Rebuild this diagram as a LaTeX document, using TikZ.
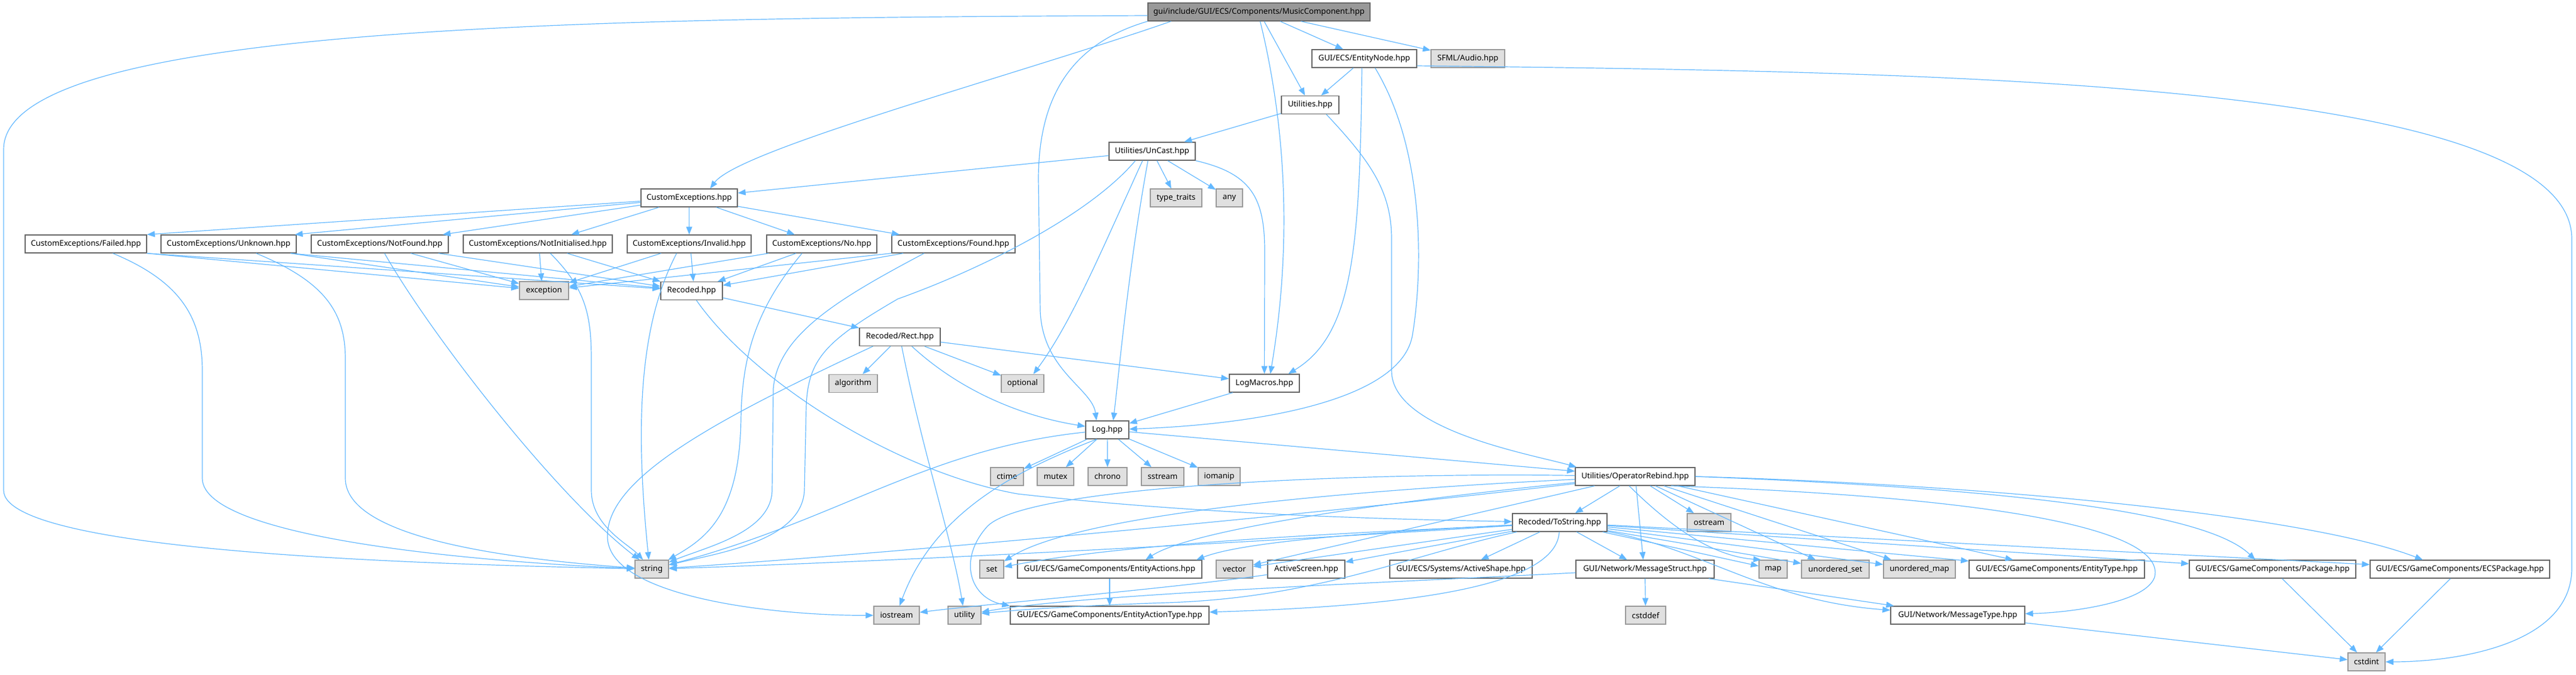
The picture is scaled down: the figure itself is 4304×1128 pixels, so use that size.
\documentclass[tikz,border=0pt]{standalone}
\usepackage{fontspec}
\usetikzlibrary{arrows.meta}
\newfontfamily\dgfont{Noto Sans}
\definecolor{edgec}{HTML}{63B8FF}
\definecolor{cdark}{HTML}{666666}
\definecolor{cmid}{HTML}{999999}
\definecolor{clight}{HTML}{E0E0E0}
\tikzset{
  box/.style={rectangle, draw=cdark, fill=white, line width=1.4pt, minimum height=30pt, inner sep=0pt,
    font=\dgfont\fontsize{13.2pt}{15pt}\selectfont, text=black},
  gbox/.style={box, draw=cmid, fill=clight},
  rbox/.style={box, draw=cdark, fill=cmid},
  e/.style={draw=edgec, line width=1.2pt, -{Triangle[length=13pt,width=10pt]}},
}
\begin{document}
\begin{tikzpicture}[x=1pt,y=1pt]
\useasboundingbox (0,0) rectangle (4304,-1128);
% nodes
\node[rbox, minimum width=371pt] (root) at (2103.5,-20) {gui/include/GUI/ECS/Components/MusicComponent.hpp};
\node[box, minimum width=175pt] (entnode) at (2279.5,-98) {GUI/ECS/EntityNode.hpp};
\node[gbox, minimum width=123pt] (sfml) at (2452.5,-98) {SFML/Audio.hpp};
\node[box, minimum width=96pt] (util) at (2189,-175.5) {Utilities.hpp};
\node[box, minimum width=144pt] (uncast) at (1925,-253) {Utilities/UnCast.hpp};
\node[box, minimum width=161pt] (cexc) at (1151.5,-331) {CustomExceptions.hpp};
\node[gbox, minimum width=86pt] (typetr) at (1965,-331) {type\_traits};
\node[gbox, minimum width=44pt] (any) at (2054,-331) {any};
\node[box, minimum width=203pt] (failed) at (143.5,-408) {CustomExceptions/Failed.hpp};
\node[box, minimum width=226pt] (unknown) at (382,-408) {CustomExceptions/Unknown.hpp};
\node[box, minimum width=229pt] (notfound) at (634.5,-408) {CustomExceptions/NotFound.hpp};
\node[box, minimum width=249pt] (notinit) at (898.5,-408) {CustomExceptions/NotInitialised.hpp};
\node[box, minimum width=207pt] (invalid) at (1151.5,-408) {CustomExceptions/Invalid.hpp};
\node[box, minimum width=184pt] (no) at (1373,-408) {CustomExceptions/No.hpp};
\node[box, minimum width=206pt] (found) at (1593,-408) {CustomExceptions/Found.hpp};
\node[gbox, minimum width=82pt] (exception) at (909,-486) {exception};
\node[box, minimum width=103pt] (recoded) at (1155.5,-486.5) {Recoded.hpp};
\node[box, minimum width=135pt] (rect) at (1503.5,-563.5) {Recoded/Rect.hpp};
\node[gbox, minimum width=81pt] (algorithm) at (1425.5,-641.5) {algorithm};
\node[gbox, minimum width=71pt] (optional) at (1708.5,-641.5) {optional};
\node[box, minimum width=117pt] (logmacros) at (2112.5,-641) {LogMacros.hpp};
\node[box, minimum width=72pt] (log) at (1850,-719) {Log.hpp};
\node[gbox, minimum width=55pt] (ctime) at (1682.5,-797) {ctime};
\node[gbox, minimum width=61pt] (mutex) at (1763.5,-797) {mutex};
\node[gbox, minimum width=65pt] (chrono) at (1850.5,-797) {chrono};
\node[gbox, minimum width=71pt] (sstream) at (1942.5,-797) {sstream};
\node[gbox, minimum width=70pt] (iomanip) at (2037,-797) {iomanip};
\node[box, minimum width=200pt] (oprebind) at (2732,-797) {Utilities/OperatorRebind.hpp};
\node[box, minimum width=158pt] (tostring) at (2606,-874) {Recoded/ToString.hpp};
\node[gbox, minimum width=73pt] (ostream) at (2855.5,-874) {ostream};
\node[gbox, minimum width=56pt] (string) at (1089,-952) {string};
\node[gbox, minimum width=40pt] (set) at (1657,-952) {set};
\node[box, minimum width=308pt] (entact) at (1854,-952) {GUI/ECS/GameComponents/EntityActions.hpp};
\node[gbox, minimum width=61pt] (vector) at (2062.5,-952) {vector};
\node[box, minimum width=129pt] (actscreen) at (2182.5,-952) {ActiveScreen.hpp};
\node[box, minimum width=238pt] (actshape) at (2441,-952) {GUI/ECS/Systems/ActiveShape.hpp};
\node[box, minimum width=231pt] (msgstruct) at (2748.5,-952) {GUI/Network/MessageStruct.hpp};
\node[gbox, minimum width=47pt] (map) at (2962.5,-952) {map};
\node[gbox, minimum width=113pt] (uset) at (3066.5,-952) {unordered\_set};
\node[gbox, minimum width=120pt] (umap) at (3207,-952) {unordered\_map};
\node[box, minimum width=293pt] (enttype) at (3436.5,-952) {GUI/ECS/GameComponents/EntityType.hpp};
\node[box, minimum width=278pt] (package) at (3797,-952) {GUI/ECS/GameComponents/Package.hpp};
\node[box, minimum width=300pt] (ecspackage) at (4110,-952) {GUI/ECS/GameComponents/ECSPackage.hpp};
\node[gbox, minimum width=76pt] (iostream) at (1498,-1029) {iostream};
\node[gbox, minimum width=55pt] (utility) at (1611.5,-1029) {utility};
\node[box, minimum width=332pt] (entacttype) at (1854,-1029) {GUI/ECS/GameComponents/EntityActionType.hpp};
\node[gbox, minimum width=67pt] (cstddef) at (2749.5,-1029) {cstddef};
\node[box, minimum width=224pt] (msgtype) at (3271,-1029) {GUI/Network/MessageType.hpp};
\node[gbox, minimum width=62pt] (cstdint) at (3954,-1107) {cstdint};

% root
\draw[e] ([yshift=-6pt]root.west) .. controls (1000,-30) and (6,-40) .. (6,-250) -- (6,-820) .. controls (6,-930) and (800,-945) .. (string);
\draw[e] ([xshift=-147pt]root.south) .. controls (1700,-125) and (1235,-250) .. ([xshift=35pt]cexc.north);
\draw[e] (root.south west) .. controls (1800,-70) and (1735,-150) .. (1735,-300) -- (1738,-520) .. controls (1742,-620) and (1825,-650) .. ([xshift=-18pt]log.north);
\draw[e] ([xshift=2pt]root.south) .. controls (2170,-300) and (2140,-520) .. ([xshift=10pt]logmacros.north);
\draw[e] (root) -- (util);
\draw[e] (root) -- (entnode);
\draw[e] (root) -- (sfml);
% entity node
\draw[e] (entnode) -- (util);
\draw[e] ([xshift=-4pt]entnode.south) .. controls (2272,-420) and (2260,-560) .. ([xshift=40pt]logmacros.north);
\draw[e] ([xshift=18pt]entnode.south) .. controls (2380,-250) and (2378,-450) .. (2360,-560) .. controls (2342,-670) and (2100,-710) .. (log);
\draw[e] ([yshift=-12pt]entnode.east) .. controls (3200,-120) and (4297,-130) .. (4297,-400) -- (4297,-950) .. controls (4297,-1080) and (4100,-1107) .. (cstdint);
% utilities
\draw[e] (util) -- (uncast);
\draw[e] ([xshift=27pt]util.south) .. controls (2290,-270) and (2325,-320) .. (2325,-400) -- (2325,-620) .. controls (2325,-720) and (2560,-760) .. ([xshift=-98pt]oprebind.north);
% uncast
\draw[e] (uncast) -- (cexc);
\draw[e] (uncast) -- (typetr);
\draw[e] (uncast) -- (any);
\draw[e] (uncast.south east) .. controls (2090,-290) and (2113,-330) .. (2113,-420) -- (logmacros);
\draw[e] ([xshift=-7pt]uncast.south) .. controls (1885,-450) and (1870,-620) .. ([xshift=10pt]log.north);
\draw[e] ([xshift=-16pt]uncast.south) .. controls (1840,-420) and (1790,-540) .. ([xshift=18pt]optional.north);
\draw[e] ([xshift=-28pt]uncast.south) .. controls (1820,-360) and (1640,-450) .. (1500,-500) .. controls (1380,-570) and (1350,-600) .. (1347,-680) -- (1344,-820) .. controls (1340,-905) and (1200,-925) .. (string);
% custom exceptions
\draw[e] (cexc) -- (failed.north east);
\draw[e] (cexc) -- ([xshift=-3pt]unknown.north east);
\draw[e] (cexc) -- ([xshift=-10pt]notfound.north east);
\draw[e] (cexc) -- ([xshift=56pt]notinit.north);
\draw[e] (cexc) -- (invalid);
\draw[e] (cexc) -- (no);
\draw[e] (cexc) -- (found);
% failed
\draw[e] (failed.south east) -- (exception);
\draw[e] (failed.south east) -- (recoded);
\draw[e] ([xshift=45pt]failed.south) .. controls (300,-470) and (338,-530) .. (338,-620) -- (338,-800) .. controls (338,-900) and (800,-940) .. (string);
% unknown
\draw[e] ([xshift=-10pt]unknown.south east) -- (exception);
\draw[e] ([xshift=-10pt]unknown.south east) -- (recoded);
\draw[e] ([xshift=46pt]unknown.south) .. controls (540,-470) and (577,-520) .. (577,-600) -- (577,-800) .. controls (577,-900) and (850,-935) .. (string);
% not found
\draw[e] ([xshift=52pt]notfound.south) -- (exception);
\draw[e] ([xshift=98pt]notfound.south) -- (recoded);
\draw[e] ([xshift=8pt]notfound.south) .. controls (720,-560) and (930,-830) .. (string);
% not initialised
\draw[e] ([xshift=3pt]notinit.south) -- ([xshift=-4pt]exception.north);
\draw[e] ([xshift=49pt]notinit.south) -- (recoded);
\draw[e] ([xshift=21pt]notinit.south) .. controls (975,-480) and (988,-520) .. (988,-600) -- (988,-820) .. controls (988,-880) and (1050,-910) .. (string);
% invalid
\draw[e] ([xshift=-47pt]invalid.south) -- (exception);
\draw[e] ([xshift=3pt]invalid.south) -- ([xshift=3pt]recoded.north);
\draw[e] ([xshift=-21pt]invalid.south) .. controls (1070,-540) and (1060,-700) .. ([xshift=-5pt]string.north);
% no
\draw[e] ([xshift=-89pt]no.south) -- (exception);
\draw[e] ([xshift=-43pt]no.south) -- (recoded);
\draw[e] ([xshift=-33pt]no.south) .. controls (1260,-520) and (1240,-600) .. (1238,-700) .. controls (1236,-860) and (1180,-900) .. (string);
% found
\draw[e] (found.south west) -- (exception);
\draw[e] ([xshift=-84pt]found.south) -- (recoded);
\draw[e] ([xshift=-49pt]found.south) .. controls (1400,-500) and (1300,-560) .. (1292,-650) -- (1290,-820) .. controls (1289,-890) and (1180,-915) .. (string);
% recoded
\draw[e] (recoded) -- (rect);
\draw[e] ([xshift=8pt]recoded.south) .. controls (1260,-640) and (1500,-790) .. (1700,-826) .. controls (2000,-860) and (2300,-868) .. (tostring);
% rect
\draw[e] (rect) -- (algorithm);
\draw[e] (rect) -- (optional);
\draw[e] (rect) -- (logmacros);
\draw[e] ([xshift=20pt]rect.south) .. controls (1600,-650) and (1700,-695) .. (log);
\draw[e] (rect) .. controls (1540,-750) and (1590,-900) .. (utility);
\draw[e] ([xshift=-45pt]rect.south) .. controls (1200,-700) and (1010,-800) .. (1015,-900) .. controls (1020,-1000) and (1300,-1030) .. (iostream);
% log macros
\draw[e] (logmacros) -- (log);
% log
\draw[e] (log) -- (ctime);
\draw[e] (log) -- (mutex);
\draw[e] (log) -- (chrono);
\draw[e] (log) -- (sstream);
\draw[e] (log) -- (iomanip);
\draw[e] (log) -- (oprebind);
\draw[e] (log) .. controls (1550,-750) and (1400,-870) .. (string);
\draw[e] ([xshift=-18pt]log.south) .. controls (1690,-790) and (1560,-860) .. ([xshift=5pt]iostream.north);
% operator rebind
\draw[e] (oprebind) -- (tostring);
\draw[e] (oprebind) -- (ostream);
\draw[e] (oprebind) .. controls (2200,-860) and (1500,-925) .. (string);
\draw[e] (oprebind) .. controls (2250,-820) and (1800,-860) .. (set);
\draw[e] (oprebind) .. controls (2400,-830) and (2000,-880) .. ([xshift=60pt]entact.north);
\draw[e] (oprebind) -- (vector);
\draw[e] (oprebind) -- ([xshift=-3pt]msgstruct.north);
\draw[e] ([xshift=-10pt]oprebind.south) .. controls (2790,-880) and (2860,-930) .. ([xshift=-20pt]map.north);
\draw[e] (oprebind) -- ([xshift=-33pt]uset.north);
\draw[e] (oprebind) -- ([xshift=-47pt]umap.north);
\draw[e] (oprebind) -- ([xshift=-73pt]enttype.north);
\draw[e] (oprebind.east) .. controls (3300,-815) and (3680,-850) .. ([xshift=-29pt]package.north);
\draw[e] (oprebind.east) .. controls (3300,-810) and (3850,-860) .. ([xshift=-62pt]ecspackage.north);
\draw[e] ([xshift=60pt]oprebind.south) .. controls (3300,-830) and (3620,-880) .. (3600,-965) .. controls (3585,-1010) and (3450,-1025) .. (msgtype);
\draw[e] (oprebind) .. controls (2300,-790) and (1720,-810) .. (1650,-880) .. controls (1600,-935) and (1620,-1000) .. (entacttype.north west);
% to string
\draw[e] (tostring) .. controls (2200,-900) and (1600,-935) .. (string);
\draw[e] (tostring) .. controls (2300,-890) and (1900,-905) .. (set);
\draw[e] (tostring) .. controls (2300,-890) and (2080,-905) .. ([xshift=145pt]entact.north);
\draw[e] (tostring) -- (vector);
\draw[e] (tostring) -- (actscreen);
\draw[e] (tostring) -- (actshape);
\draw[e] (tostring) -- ([xshift=-30pt]msgstruct.north);
\draw[e] (tostring) -- (map);
\draw[e] (tostring) -- (uset);
\draw[e] (tostring) -- (umap);
\draw[e] (tostring) -- (enttype);
\draw[e] (tostring) -- (package);
\draw[e] (tostring) -- (ecspackage);
\draw[e] (tostring) .. controls (2850,-920) and (2950,-1005) .. (msgtype);
\draw[e] (tostring) .. controls (2350,-930) and (2200,-1000) .. (1950,-1008) .. controls (1800,-1013) and (1700,-1020) .. (utility);
\draw[e] (tostring) .. controls (2600,-990) and (2300,-1015) .. (entacttype);
% message struct
\draw[e] (msgstruct) -- (cstddef);
\draw[e] (msgstruct) -- (msgtype);
\draw[e] (msgstruct) .. controls (2300,-975) and (1800,-995) .. (utility);
% active screen
\draw[e] (actscreen) .. controls (1950,-985) and (1650,-1010) .. (iostream);
% entity actions
\draw[e] (entact) -- (entacttype);
% packages and types
\draw[e] (package) -- (cstdint);
\draw[e] (ecspackage) -- (cstdint);
\draw[e] (msgtype) -- (cstdint);
\end{tikzpicture}
\end{document}
